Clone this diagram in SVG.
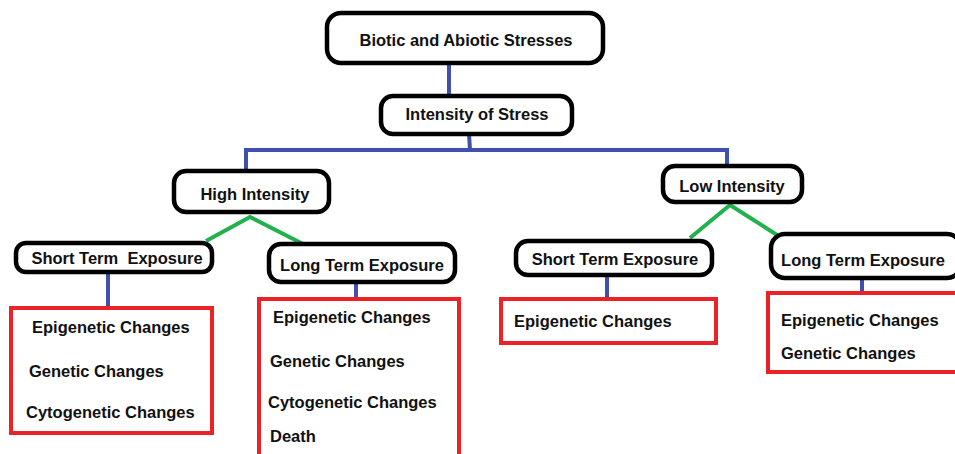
<svg xmlns="http://www.w3.org/2000/svg" width="955" height="454" viewBox="0 0 955 454">
<style>
.node{fill:#fff;stroke:#000;stroke-width:4.5}
.box{fill:#fff;stroke:#ed2227;stroke-width:4}
.t{font-family:"Liberation Sans",Arial,sans-serif;font-weight:bold;font-size:16.5px;fill:#111}
.c{text-anchor:middle}
.blue{stroke:#4050b0;stroke-width:4;fill:none}
.green{stroke:#22b14c;stroke-width:4;fill:none}
</style>
<rect width="955" height="454" fill="#fff"/>
<g id="connectors">
<line class="blue" x1="449" y1="63" x2="449" y2="96"/>
<line class="blue" x1="469" y1="134" x2="470" y2="150"/>
<polyline class="blue" points="246,172 246,150 727,150 727,167"/>
<polyline class="green" points="206,241 250,217 305,245"/>
<polyline class="green" points="690,238 730,205 777,235"/>
<line class="blue" x1="108" y1="271" x2="108" y2="308"/>
<line class="blue" x1="356" y1="281" x2="356" y2="299"/>
<line class="blue" x1="607" y1="274" x2="607" y2="299"/>
<line class="blue" x1="862" y1="277" x2="862" y2="294"/>
</g>
<g id="n-top"><rect class="node" x="327" y="13" width="276" height="50" rx="14"/><text class="t c" x="466" y="46">Biotic and Abiotic Stresses</text></g>
<g id="n-intensity"><rect class="node" x="381" y="96" width="191" height="38" rx="12"/><text class="t c" x="477" y="120">Intensity of Stress</text></g>
<g id="n-high"><rect class="node" x="174" y="171" width="155" height="41" rx="12"/><text class="t c" x="255" y="200">High Intensity</text></g>
<g id="n-low"><rect class="node" x="663" y="166" width="139" height="36" rx="12"/><text class="t c" x="732" y="192">Low Intensity</text></g>
<g id="n-hst"><rect class="node" x="16" y="243" width="196" height="29" rx="10"/><text class="t c" x="117" y="264" xml:space="preserve">Short Term  Exposure</text></g>
<g id="n-hlt"><rect class="node" x="269" y="244" width="186" height="38" rx="12"/><text class="t c" x="362" y="271">Long Term Exposure</text></g>
<g id="n-lst"><rect class="node" x="516" y="241" width="196" height="34" rx="12"/><text class="t c" x="615" y="265">Short Term Exposure</text></g>
<g id="n-llt"><rect class="node" x="771" y="234" width="190" height="44" rx="14"/><text class="t c" x="863" y="266">Long Term Exposure</text></g>
<g id="b-hst"><rect class="box" x="11" y="308" width="201" height="125"/>
<text class="t" x="32" y="333">Epigenetic Changes</text>
<text class="t" x="29" y="377">Genetic Changes</text>
<text class="t" x="26" y="418">Cytogenetic Changes</text></g>
<g id="b-hlt"><rect class="box" x="259" y="299" width="200" height="170"/>
<text class="t" x="273" y="323">Epigenetic Changes</text>
<text class="t" x="270" y="367">Genetic Changes</text>
<text class="t" x="268" y="408">Cytogenetic Changes</text>
<text class="t" x="270" y="442">Death</text></g>
<g id="b-lst"><rect class="box" x="501" y="299" width="215" height="44"/>
<text class="t" x="514" y="327">Epigenetic Changes</text></g>
<g id="b-llt"><rect class="box" x="768" y="293" width="200" height="79"/>
<text class="t" x="781" y="326">Epigenetic Changes</text>
<text class="t" x="781" y="359">Genetic Changes</text></g>
</svg>
